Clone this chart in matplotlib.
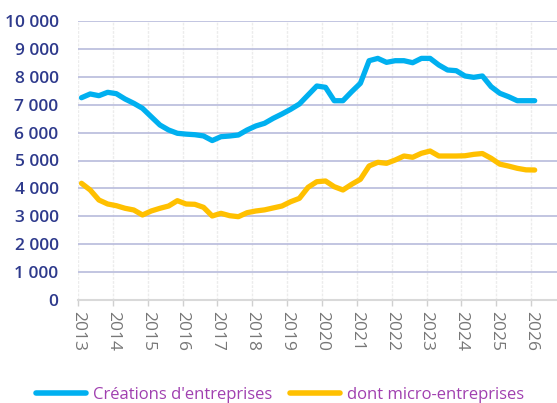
import numpy as np
import matplotlib
matplotlib.use("Agg")
from matplotlib import pyplot as plt
from matplotlib.ticker import FuncFormatter

# Quarterly series, first point early 2013
creations = [7250, 7385, 7323, 7444, 7395, 7204, 7050, 6870, 6570, 6272,
             6093, 5975, 5945, 5925, 5880, 5715, 5853, 5878, 5914, 6093,
             6237, 6333, 6512, 6667, 6835, 7025, 7348, 7670, 7623, 7143,
             7143, 7466, 7767, 8577, 8660, 8518, 8577, 8577, 8505, 8660,
             8660, 8423, 8244, 8219, 8029, 7981, 8029, 7646, 7409, 7287,
             7143, 7143, 7143]
micro = [4183, 3943, 3584, 3441, 3380, 3287, 3226, 3047, 3190, 3287,
         3369, 3560, 3441, 3430, 3322, 3011, 3107, 3022, 2986, 3129,
         3190, 3230, 3300, 3369, 3523, 3643, 4039, 4240, 4265, 4061,
         3943, 4147, 4326, 4803, 4935, 4899, 5018, 5161, 5115, 5258,
         5340, 5161, 5161, 5161, 5170, 5220, 5250, 5080, 4870, 4800,
         4720, 4665, 4659]
years = list(range(2013, 2027))
labels = ["Créations d'entreprises", "dont micro-entreprises"]

x = 2013.1 + 0.25 * np.arange(len(creations))

plt.rcParams['font.family'] = ['Open Sans', 'DejaVu Sans']

fig = plt.figure(figsize=(5.57, 4.03), dpi=100)
ax = fig.add_axes([78 / 557, 103 / 403, 1 - 78 / 557, 279 / 403])

ax.plot(x, creations, color='#00b0f0', linewidth=3.8, solid_capstyle='round',
        solid_joinstyle='round', label=labels[0])
ax.plot(x, micro, color='#ffc000', linewidth=3.8, solid_capstyle='round',
        solid_joinstyle='round', label=labels[1])

ax.set_xlim(2013, 2026.74)
ax.set_ylim(0, 10000)
ax.set_yticks(np.arange(0, 10001, 1000))
ax.yaxis.set_major_formatter(FuncFormatter(lambda v, p: f"{int(v):,}".replace(",", " ")))
ax.set_xticks(years)
ax.set_xticklabels([str(y) for y in years], rotation=270, fontsize=12.5, color='#777777')

for lab in ax.get_yticklabels():
    lab.set_fontweight('semibold')
    lab.set_fontsize(12.5)
    lab.set_color('#2e3a8c')
ax.tick_params(axis='y', length=0, pad=14)
ax.tick_params(axis='x', length=4, width=1, color='#d0d0d0', pad=4)

ax.grid(axis='y', color='#b8bbdc', linewidth=1.2)
ax.grid(axis='x', color='#ececec', linewidth=1, linestyle=(0, (2, 1)))
ax.set_axisbelow(True)
for s in ['top', 'right', 'left']:
    ax.spines[s].set_visible(False)
ax.spines['bottom'].set_color('#d9d9d9')
ax.spines['bottom'].set_linewidth(1.5)

leg = fig.legend(loc='center', bbox_to_anchor=(0.503, 0.02), ncol=2, frameon=False,
                 handlelength=3.0, handletextpad=0.4, columnspacing=1.1,
                 fontsize=12)
for t in leg.get_texts():
    t.set_color('#a040b0')
for h in leg.get_lines():
    h.set_linewidth(4)

plt.savefig("out.png", dpi=100)
